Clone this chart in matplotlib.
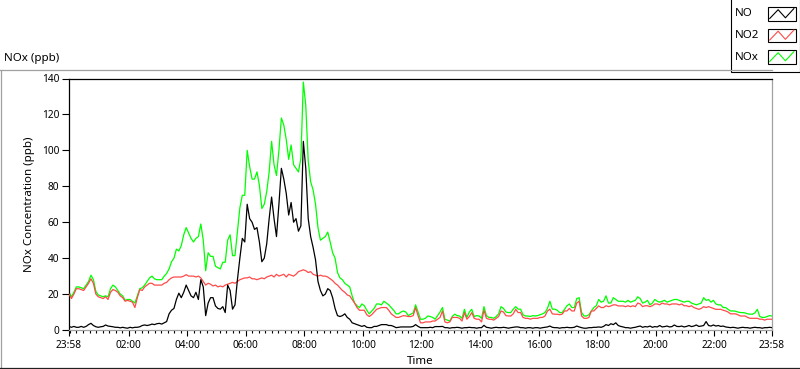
import numpy as np
import matplotlib
matplotlib.use("Agg")
import matplotlib.pyplot as plt
from matplotlib.lines import Line2D
from matplotlib.patches import Rectangle

plt.rcParams['font.family'] = ['Noto Sans', 'DejaVu Sans']

# ---- data: samples every 5 minutes starting at 23:58 ----
minutes = np.arange(0, 1441, 5)

nox_ppb = [
    21, 18.5, 21, 24, 24, 23.5, 23, 25, 27, 30.5,
    28, 21.5, 19.5, 19, 18.5, 19, 18.5, 23, 25, 24,
    22, 20, 19, 16.5, 17, 17, 16, 15, 19, 23,
    23.5, 25, 27, 29, 30, 28.5, 28, 28, 28, 30,
    31.5, 34, 38, 40, 45, 44, 47, 53, 57, 54,
    51, 49, 51, 52, 59, 50, 33, 43, 41, 41,
    35.5, 34.7, 34, 37.7, 37.7, 50, 53, 41.4, 41.4, 55,
    68, 75, 75, 100, 91, 84, 84, 88, 80.6, 67.6,
    70, 77, 88, 105, 92, 86, 100, 118, 114, 106,
    95, 103, 92, 90, 88, 95.6, 138, 125, 94, 82.5,
    78, 70, 57, 50, 51, 52, 54.5, 49, 43, 40,
    32, 29, 28, 26, 25, 24, 19, 15, 13.5, 12.5,
    14.5, 13.5, 11, 9, 10.5, 12, 14.5, 14.5, 14, 16,
    15, 14, 12.5, 11, 9, 9, 10, 10.6, 10, 8,
    8.8, 9.5, 14, 10, 6, 6, 6.5, 7.8, 7.5, 7,
    6, 8, 10, 12.5, 6, 5.5, 5, 7.5, 8.8, 8,
    7.8, 6.5, 11.5, 7, 10, 11.5, 7.5, 8, 7.8, 6.5,
    13, 8, 7, 7, 6.5, 7.5, 9, 13, 12, 10,
    9.7, 9.7, 11.6, 13, 11.6, 11.6, 8.5, 7.8, 7.8, 7.5,
    8, 7.8, 8, 8.5, 9, 9.7, 12, 16, 11.6, 11.6,
    11, 9.7, 9.7, 11.5, 13.5, 14.5, 12.5, 12.5, 17.5, 18,
    9.7, 7.8, 7.8, 8.5, 10.6, 12.5, 13.5, 17, 15.5, 16,
    19, 15, 15, 18, 17, 16, 16, 16, 15.5, 16.5,
    15.5, 16, 16.5, 18.5, 17.5, 15, 15.5, 16.5, 14, 15,
    17, 16, 15.5, 16, 16.5, 15.5, 16, 16.5, 17, 17,
    16.5, 16, 15.5, 16, 16, 15, 14.5, 14, 14.5, 15,
    18, 16.5, 17, 15.5, 16.5, 14.5, 14, 14, 12.5, 12.5,
    11.5, 10.6, 10.6, 10.5, 10, 9.7, 9.7, 9.5, 9, 8.8,
    8.8, 9.5, 11.5, 7.5, 7, 7, 7.5, 8, 7.8]

no2_ppb = [
    20, 17.5, 20, 23, 23, 22.5, 22, 24, 26, 28.5,
    26, 20, 18.5, 18, 17.5, 18.5, 17, 21, 22.5, 22,
    21, 19, 18, 16, 16.5, 16, 15.5, 12.5, 18, 22.5,
    22, 24, 25, 26, 26, 25, 25, 25, 25, 26,
    26.5, 28, 29, 29.5, 29.5, 29.5, 29.5, 30, 30.8, 30,
    30, 30, 29.5, 30, 29, 27, 25, 26, 25.5, 24.5,
    25, 24, 24.5, 24, 25, 25.5, 26, 26.5, 26, 27,
    28, 28.5, 29, 29, 29.5, 28.5, 28.5, 28, 28.5, 29,
    28.5, 29.5, 30, 30.5, 29.5, 31, 30, 30.5, 31, 29.5,
    31, 30.5, 30, 31, 32.5, 33, 33.5, 33, 32, 32.5,
    31, 30.5, 30, 30.5, 30, 30, 29.5, 28.5, 27.5, 26,
    25, 23.5, 22, 21, 19.5, 19, 17, 15, 12.5, 11,
    11, 11, 8.5, 7.5, 8.5, 10, 11.5, 12, 12.5, 12.5,
    12.5, 11, 9, 8, 7, 7, 7.5, 8, 7.8, 7.5,
    7.5, 8, 12.5, 8, 4, 4, 4.5, 4.5, 4.5, 5,
    5, 6, 7, 10.6, 4.5, 4, 4.5, 7, 7, 7,
    6.5, 5, 9.7, 6, 7.5, 9.7, 6.5, 6, 6, 4.5,
    11, 6.5, 6, 6, 5.5, 6.5, 7.5, 10.6, 10, 8,
    7.8, 7.8, 9, 11.5, 9.7, 9.7, 7, 6.5, 6.5, 6,
    6.5, 6.5, 6.5, 7, 7, 7.8, 10.5, 11.6, 9, 8.8,
    8.8, 8.5, 8.8, 10.6, 10.6, 12, 10.6, 10.6, 15, 16,
    7.8, 6.5, 6.5, 7, 10.6, 10.6, 12, 13.4, 12.5, 12.5,
    13.5, 13, 13.4, 14, 14, 13.4, 13.4, 13.4, 13, 13.5,
    13, 13.5, 13, 15, 14.5, 13, 13.5, 13.5, 13, 13.5,
    14.5, 14.5, 14, 15, 14.5, 14.5, 14, 14.5, 14.5, 14.5,
    14, 14.5, 13.5, 13.5, 13, 13.5, 12.5, 12, 11.5, 12,
    13, 12.5, 13, 12.5, 12, 11.5, 11.5, 11.5, 11, 10.6,
    10, 9, 9, 9, 8.5, 7.8, 7.8, 7.8, 7, 6.5,
    6.5, 6.5, 6.5, 6, 6, 5.5, 6, 6, 6]

no_ppb = [
    2, 1.5, 2, 1.5, 1.5, 2, 1.5, 2, 3, 3.7,
    2.5, 1.8, 1.5, 1.8, 2, 2.8, 2.2, 2, 1.8, 1.5,
    1.5, 1.2, 1.5, 1.2, 1.0, 1.5, 1.2, 1.5, 1.5, 1.8,
    2.5, 2.8, 2.5, 2.8, 3.3, 3, 3.5, 3.7, 3.3, 4,
    4.7, 9, 11, 12, 17, 20.5, 18, 21, 25, 22,
    19, 18, 21, 17, 28, 24, 8, 15, 18, 18,
    13.4, 12, 11.6, 13, 9.7, 25, 22, 11.6, 14, 28,
    40, 51, 49, 70, 62, 60, 56, 57, 49, 38,
    40, 48, 62, 74, 62, 52, 70, 90, 84, 76,
    64, 71, 60, 62, 55, 58, 105, 90, 62, 52,
    46, 39, 27, 22, 19, 20, 23, 22, 18, 12,
    8, 7.5, 8, 9, 7, 6, 4, 3.5, 3, 2.5,
    2, 2.5, 1.5, 1.3, 1.3, 2, 2, 2.5, 3, 3,
    3, 2.5, 2.5, 2, 1.3, 1.5, 1.7, 1.7, 1.7, 1.7,
    1.7, 2, 3, 2, 1.3, 1.3, 1.3, 1.3, 1.5, 1.3,
    1.9, 1.9, 1.9, 2, 1.3, 1.3, 1.0, 1.3, 1.3, 1.5,
    1.3, 1.0, 1.3, 1.3, 1.5, 1.3, 1.3, 1.0, 1.3, 1.3,
    2.6, 1.5, 1.3, 1.0, 1.3, 1.5, 1.3, 1.3, 1.5, 1.3,
    1.0, 1.3, 1.5, 1.7, 1.7, 1.3, 1.3, 1.0, 1.3, 1.3,
    1.0, 1.3, 1.3, 1.0, 1.3, 1.5, 1.7, 2.2, 1.5, 1.3,
    1.3, 1.0, 1.3, 1.3, 1.5, 1.3, 1.3, 1.5, 2.2, 1.7,
    1.3, 1.0, 1.0, 1.3, 1.3, 1.5, 1.5, 1.7, 1.5, 2,
    3, 2.5, 3.5, 3, 4, 2.5, 2, 1.7, 1.3, 1.3,
    1.0, 1.3, 1.5, 1.9, 2.2, 1.5, 1.9, 1.7, 2.2, 1.5,
    1.9, 1.7, 2.5, 1.7, 1.9, 2.2, 1.7, 1.9, 2.8, 2,
    1.9, 2.2, 1.7, 2, 2.5, 1.9, 2.2, 2.8, 2, 2.2,
    2.5, 4.7, 2.5, 2.2, 2.8, 2.2, 2.5, 2, 2.2, 1.7,
    1.5, 1.3, 1.5, 1.3, 1.0, 1.3, 1.5, 1.3, 1.3, 1.0,
    1.3, 1.5, 1.3, 1.3, 1.0, 1.3, 1.3, 1.5, 1.3]

xtick_minutes = [0, 122, 242, 362, 482, 602, 722, 842, 962, 1082, 1202, 1322, 1440]
xtick_labels = ["23:58", "02:00", "04:00", "06:00", "08:00", "10:00", "12:00",
                "14:00", "16:00", "18:00", "20:00", "22:00", "23:58"]
ytick_values = [0, 20, 40, 60, 80, 100, 120, 140]

series_names = ["NO", "NO2", "NOx"]
series_colors = ["#000000", "#ff4a4a", "#00ff00"]

W, H = 800, 369
fig = plt.figure(figsize=(W / 100, H / 100), dpi=100)
fig.patch.set_facecolor("white")

# plot area in pixels
left_px, right_px, top_px, bottom_px = 69, 772, 78.5, 330
ax = fig.add_axes([left_px / W, 1 - bottom_px / H, (right_px - left_px) / W, (bottom_px - top_px) / H])
ax.set_facecolor("white")

ax.plot(minutes, nox_ppb, color=series_colors[2], lw=0.9, zorder=2)
ax.plot(minutes, no2_ppb, color=series_colors[1], lw=0.9, zorder=3)
ax.plot(minutes, no_ppb, color=series_colors[0], lw=0.9, zorder=4)

ax.set_xlim(0, 1440)
ax.set_ylim(0, 140)
ax.set_xticks(xtick_minutes)
ax.set_xticklabels(xtick_labels)
ax.set_xticks(np.arange(2, 1441, 40 / 3), minor=True)
ax.set_yticks(ytick_values)
ax.set_yticklabels([str(v) for v in ytick_values])

ax.tick_params(axis="x", which="major", direction="out", length=4.5, width=0.8, pad=2.5,
               labelsize=7.3, colors="black")
ax.tick_params(axis="x", which="minor", direction="out", length=2.5, width=0.8, colors="black")
ax.tick_params(axis="y", which="major", direction="out", length=5, width=0.8, pad=2,
               labelsize=7.3, colors="black")

for side in ["top", "left"]:
    ax.spines[side].set_color("black")
    ax.spines[side].set_linewidth(0.9)
for side in ["right", "bottom"]:
    ax.spines[side].set_color("#a0a0a0")
    ax.spines[side].set_linewidth(0.9)

# overlay in pixel coordinates for frame, labels and legend
ov = fig.add_axes([0, 0, 1, 1], zorder=5)
ov.set_xlim(0, W)
ov.set_ylim(H, 0)
ov.axis("off")
ov.patch.set_alpha(0)

# outer frame
ov.add_line(Line2D([0, 772], [69.5, 69.5], color="#a0a0a0", lw=0.9))
ov.add_line(Line2D([0.5, 0.5], [69.5, 368], color="#a0a0a0", lw=0.9))
ov.add_line(Line2D([0, 800], [368, 368], color="#202020", lw=0.9))

ov.text(4, 58, "NOx (ppb)", fontsize=8.3, ha="left", va="center", color="black")
ov.text(30, 204, "NOx Concentration (ppb)", fontsize=8.3, ha="center", va="center",
        rotation=90, color="black")
ov.text(420, 361, "Time", fontsize=8.3, ha="center", va="center", color="black")

# legend
ov.add_patch(Rectangle((730.5, -2), 69, 73.5, facecolor="white", edgecolor="black", lw=0.8))
text_y = [13.5, 35.5, 58]
box_y = [7, 28.5, 50]
zig_x = [0.08, 0.38, 0.64, 0.94]
zig_y = [0.85, 0.2, 0.8, 0.12]
for name, col, ty, by in zip(series_names, series_colors, text_y, box_y):
    ov.text(735, ty, name, fontsize=8.3, ha="left", va="center", color="black")
    ov.add_patch(Rectangle((767.5, by), 28, 13.5, facecolor="white", edgecolor="black", lw=0.8))
    ov.add_line(Line2D([767.5 + 28 * zx for zx in zig_x], [by + 13.5 * zy for zy in zig_y],
                       color=col, lw=0.8))

fig.savefig("out.png", dpi=100, facecolor="white")
